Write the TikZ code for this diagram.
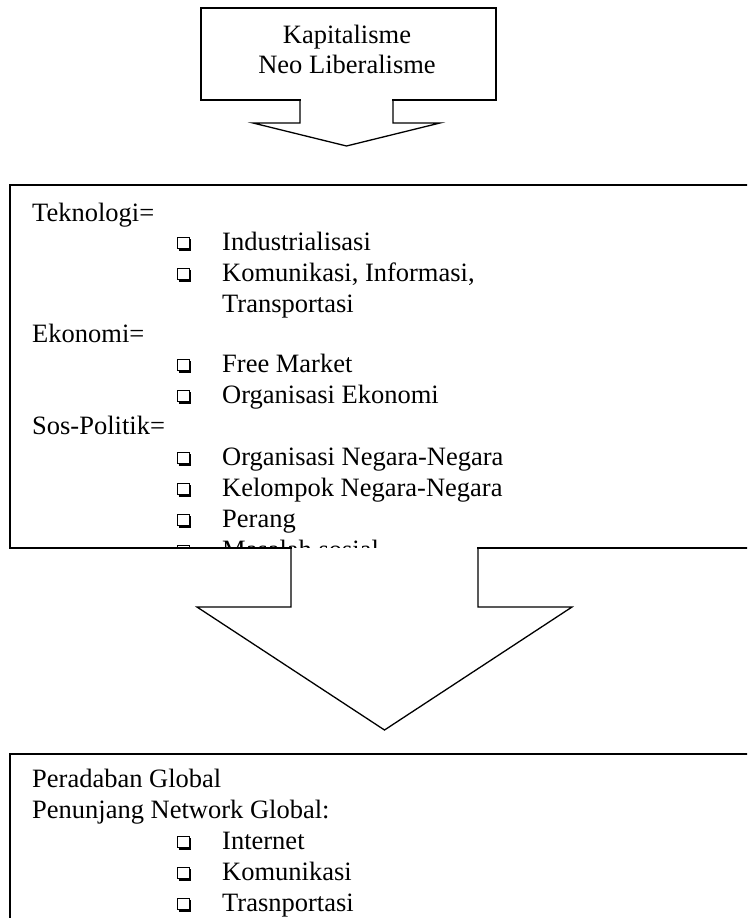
\documentclass[tikz,border=0pt]{standalone}
\usepackage{fontspec}
\setmainfont{Liberation Serif}
\begin{document}
\begin{tikzpicture}[x=1pt,y=-1pt,
  outline/.style={draw=black, line width=1.3pt, line join=miter, line cap=rect},
  txt/.style={anchor=base west, inner sep=0pt, font=\fontsize{26.5}{31}\selectfont},
  ctxt/.style={anchor=base, inner sep=0pt, font=\fontsize{26.5}{31}\selectfont},
  sqbul/.pic={
    \draw[line width=0.9pt] (0,-12.5) rectangle (12,-1.2);
    \draw[line width=2.2pt, line cap=butt] (1.5,-0.2) -- (13.3,-0.2) -- (13.3,-11);
  }]
\useasboundingbox (0,0) rectangle (747,918);
\clip (0,0) rectangle (747,918);

% ---------- top box with arrow ----------
\coordinate (tbl) at (201,100);
\coordinate (tbr) at (496,100);
\draw[outline] (300,100) -- (tbl) -- (201,8) -- (496,8) -- (tbr) -- (393,100);
\draw[outline] (300,100) -- (300,123) -- (253,123) -- (346.5,146) -- (440,123) -- (393,123) -- (393,100);
\node[ctxt] (kap) at (347,43) {Kapitalisme};
\node[ctxt] (neo) at (347,73) {Neo Liberalisme};

% ---------- middle box with arrow ----------
\draw[outline] (291,548) -- (10,548) -- (10,185) -- (760,185);
\draw[outline] (478,548) -- (760,548);
\draw[outline] (291,548) -- (291,607) -- (197,607) -- (384.5,730) -- (572,607) -- (478,607) -- (478,548);

\begin{scope}
  \clip (11,186) rectangle (747,547.3);
  \node[txt] (tek) at (32,221) {Teknologi=};
  \pic at (177,250) {sqbul};
  \node[txt] (ind) at (222,250) {Industrialisasi};
  \pic at (177,281) {sqbul};
  \node[txt] (kom) at (222,281) {Komunikasi, Informasi,};
  \node[txt] (tra) at (222,312) {Transportasi};
  \node[txt] (eko) at (32,342) {Ekonomi=};
  \pic at (177,372) {sqbul};
  \node[txt] (fre) at (222,372) {Free Market};
  \pic at (177,403) {sqbul};
  \node[txt] (ore) at (222,403) {Organisasi Ekonomi};
  \node[txt] (sos) at (32,434) {Sos-Politik=};
  \pic at (177,465) {sqbul};
  \node[txt] (orn) at (222,465) {Organisasi Negara-Negara};
  \pic at (177,496) {sqbul};
  \node[txt] (kel) at (222,496) {Kelompok Negara-Negara};
  \pic at (177,527) {sqbul};
  \node[txt] (per) at (222,527) {Perang};
  \pic at (177,558) {sqbul};
  \node[txt] (mas) at (222,558) {Masalah sosial};
\end{scope}

% ---------- bottom box ----------
\draw[outline] (10,930) -- (10,754) -- (760,754);
\node[txt] (per2) at (32,787) {Peradaban Global};
\node[txt] (pen) at (32,818) {Penunjang Network Global:};
\pic at (177,849) {sqbul};
\node[txt] (int) at (222,849) {Internet};
\pic at (177,880) {sqbul};
\node[txt] (kom2) at (222,880) {Komunikasi};
\pic at (177,911) {sqbul};
\node[txt] (trs) at (222,911) {Trasnportasi};
\end{tikzpicture}
\end{document}
